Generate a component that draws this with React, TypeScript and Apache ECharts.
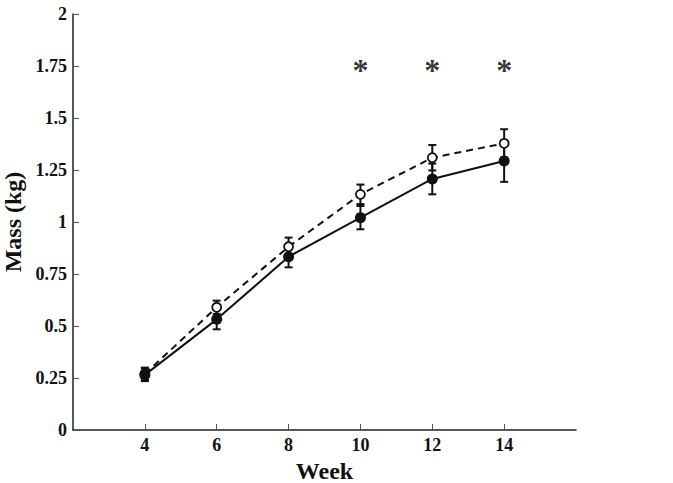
import React, { useEffect, useRef } from "react";
import * as echarts from "echarts";

const weeks = [4, 6, 8, 10, 12, 14];
const filledMean = [0.265, 0.532, 0.833, 1.021, 1.207, 1.293];
const filledErr = [0.03, 0.048, 0.051, 0.056, 0.074, 0.1];
const openMean = [0.27, 0.59, 0.881, 1.133, 1.309, 1.378];
const openErr = [0.03, 0.032, 0.044, 0.047, 0.061, 0.068];
const starWeeks = [10, 12, 14];
const starLevel = 1.745;
const xTicks = [4, 6, 8, 10, 12, 14];

const FONT = "Liberation Serif";

function errSeries(name: string, means: number[], errs: number[]) {
  return {
    name,
    type: "custom",
    z: 3,
    data: weeks.map((w, i) => [w, means[i] - errs[i], means[i] + errs[i]]),
    renderItem: (params: any, api: any) => {
      const x = api.value(0);
      const lo = api.coord([x, api.value(1)]);
      const hi = api.coord([x, api.value(2)]);
      const cap = 4;
      const style = { stroke: "#111", lineWidth: 2 };
      return {
        type: "group",
        children: [
          { type: "line", shape: { x1: lo[0], y1: lo[1], x2: hi[0], y2: hi[1] }, style },
          { type: "line", shape: { x1: lo[0] - cap, y1: lo[1], x2: lo[0] + cap, y2: lo[1] }, style },
          { type: "line", shape: { x1: hi[0] - cap, y1: hi[1], x2: hi[0] + cap, y2: hi[1] }, style },
        ],
      };
    },
  };
}

export default function App() {
  const ref = useRef<HTMLDivElement>(null);
  useEffect(() => {
    const chart = echarts.init(ref.current!, null, { renderer: "svg" });
    chart.setOption({
      animation: false,
      backgroundColor: "#fff",
      grid: { left: 73, right: 97, top: 14, bottom: 53, containLabel: false, outerBoundsMode: "none" },
      xAxis: {
        type: "value",
        min: 2,
        max: 16,
        interval: 2,
        name: "Week",
        nameLocation: "middle",
        nameGap: 29,
        nameTextStyle: { fontFamily: FONT, fontWeight: "bold", fontSize: 24, color: "#111" },
        axisLine: { lineStyle: { color: "#222", width: 1.5 } },
        axisTick: { inside: true, length: 6, customValues: xTicks, lineStyle: { color: "#555" } },
        axisLabel: {
          customValues: xTicks,
          fontFamily: FONT,
          fontWeight: "bold",
          fontSize: 18,
          color: "#111",
          margin: 6,
        },
        splitLine: { show: false },
      },
      yAxis: {
        type: "value",
        min: 0,
        max: 2,
        interval: 0.25,
        name: "Mass (kg)",
        nameLocation: "middle",
        nameGap: 45,
        nameTextStyle: { fontFamily: FONT, fontWeight: "bold", fontSize: 24, color: "#111" },
        axisLine: { show: true, lineStyle: { color: "#222", width: 1.5 } },
        axisTick: { show: true, inside: true, length: 6, lineStyle: { color: "#555" } },
        axisLabel: {
          fontFamily: FONT,
          fontWeight: "bold",
          fontSize: 18,
          color: "#111",
          margin: 6,
          formatter: (v: number) => String(v),
        },
        splitLine: { show: false },
      },
      series: [
        errSeries("openErr", openMean, openErr),
        errSeries("filledErr", filledMean, filledErr),
        {
          name: "open",
          type: "line",
          z: 4,
          data: weeks.map((w, i) => [w, openMean[i]]),
          symbol: "circle",
          symbolSize: 9,
          showAllSymbol: true,
          lineStyle: { color: "#111", width: 2, type: [7, 5] },
          itemStyle: { color: "#fff", borderColor: "#111", borderWidth: 1.8 },
        },
        {
          name: "filled",
          type: "line",
          z: 5,
          data: weeks.map((w, i) => [w, filledMean[i]]),
          symbol: "circle",
          symbolSize: 11,
          showAllSymbol: true,
          lineStyle: { color: "#111", width: 2 },
          itemStyle: { color: "#111", borderColor: "#111", borderWidth: 0 },
        },
        {
          name: "stars",
          type: "scatter",
          symbolSize: 0,
          data: starWeeks.map((w) => [w, starLevel]),
          label: {
            show: true,
            position: "inside",
            formatter: "*",
            fontFamily: FONT,
            fontWeight: "bold",
            fontSize: 32,
            color: "#000",
            offset: [0, 3],
          },
        },
      ],
    });
    return () => chart.dispose();
  }, []);
  return <div ref={ref} style={{ width: 673, height: 483, position: "absolute", left: 0, top: 0 }} />;
}
